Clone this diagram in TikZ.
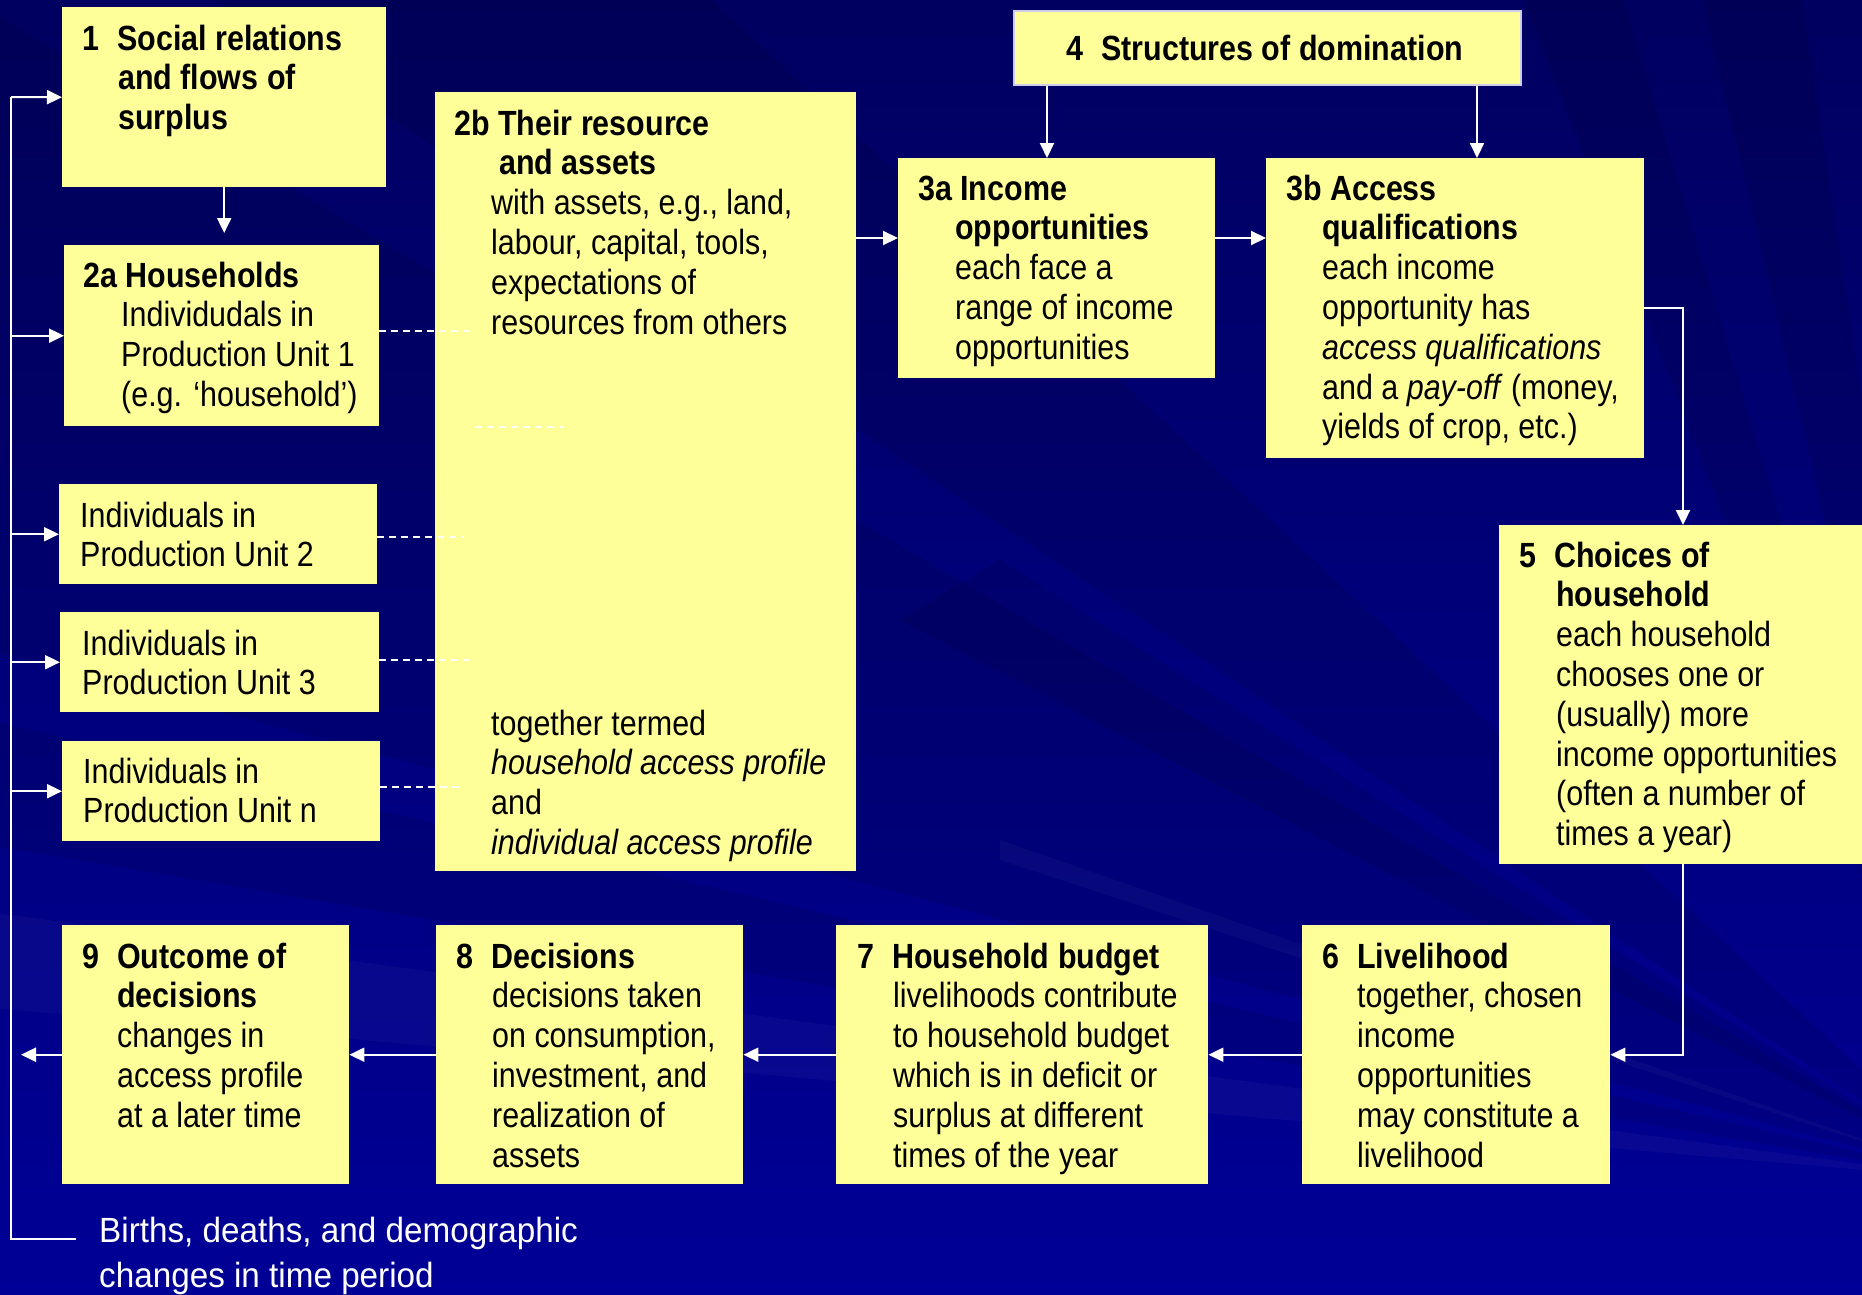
\documentclass[tikz,border=0pt]{standalone}
\usepackage{fontspec}
\setmainfont{Liberation Sans}[FakeStretch=0.87]
\newfontfamily\widefont{Liberation Sans}[FakeStretch=0.95]
\usetikzlibrary{arrows.meta}
\definecolor{boxyellow}{RGB}{255,255,153}
\definecolor{bgtop}{RGB}{0,0,96}
\definecolor{bgbot}{RGB}{0,0,150}
\definecolor{bordc}{RGB}{205,205,235}
\newcommand{\hb}[2][36pt]{\parbox[t]{700pt}{\hangindent=#1\hangafter=1\relax #2}}
\newcommand{\pb}[1]{\parbox[t]{700pt}{#1}}
\newcommand{\nm}[1]{\makebox[35pt][l]{#1}}
\tikzset{
  box/.style={fill=boxyellow, draw=none, inner sep=0pt, anchor=north west},
  txt/.style={anchor=base west, inner sep=0pt, text=black},
  ln/.style={draw=white, line width=2pt},
  arr/.style={draw=white, line width=2pt, -{Triangle[length=15pt,width=14pt]}},
  dsh/.style={draw=white, line width=1.5pt, dash pattern=on 7pt off 5pt},
  streak/.style={fill=black, opacity=0.09},
  glow/.style={fill=white, opacity=0.03}
}
\begin{document}
\begin{tikzpicture}[x=1pt,y=-1pt,font={\fontsize{35}{39.8}\selectfont}]
\useasboundingbox (0,0) rectangle (1862,1294);
% background
\shade[top color=bgtop, bottom color=bgbot] (0,0) rectangle (1862,1294);
\coordinate (P) at (1980,1180);
\begin{scope}
\clip (0,0) rectangle (1862,1294);
\fill[streak] (P) -- (-200,-100) -- (-200,600) -- cycle;
\fill[streak] (P) -- (200,-10) -- (700,-10) -- cycle;
\fill[streak] (P) -- (1520,-10) -- (1620,-10) -- cycle;
\fill[streak] (P) -- (1700,-10) -- (1800,-10) -- cycle;
\fill[streak] (P) -- (-100,700) -- (-100,830) -- cycle;
\fill[streak] (P) -- (1000,560) -- (900,620) -- cycle;
\fill[glow] (P) -- (-100,900) -- (-100,1000) -- cycle;
\fill[glow] (P) -- (1000,840) -- (1000,860) -- cycle;
\end{scope}
% boxes
\node[box, minimum width=324pt, minimum height=180pt] (b1) at (62,7) {};
\node[box, minimum width=315pt, minimum height=181pt] (b2a) at (64,245) {};
\node[box, minimum width=318pt, minimum height=100pt] (bp2) at (59,484) {};
\node[box, minimum width=319pt, minimum height=100pt] (bp3) at (60,612) {};
\node[box, minimum width=318pt, minimum height=100pt] (bpn) at (62,741) {};
\node[box, minimum width=421pt, minimum height=779pt] (b2b) at (435,92) {};
\node[box, draw=bordc, line width=1.5pt, minimum width=507pt, minimum height=74pt] (b4) at (1013,10) {};
\node[box, minimum width=317pt, minimum height=220pt] (b3a) at (898,158) {};
\node[box, minimum width=378pt, minimum height=300pt] (b3b) at (1266,158) {};
\node[box, minimum width=380pt, minimum height=339pt] (b5) at (1499,525) {};
\node[box, minimum width=308pt, minimum height=259pt] (b6) at (1302,925) {};
\node[box, minimum width=372pt, minimum height=259pt] (b7) at (836,925) {};
\node[box, minimum width=307pt, minimum height=259pt] (b8) at (436,925) {};
\node[box, minimum width=287pt, minimum height=259pt] (b9) at (62,925) {};
% texts
\node[txt] (t1) at (82,50) {\hb{\bfseries\nm{1}Social relations\\and flows of\\surplus}};
\node[txt] (t2a) at (83,287) {\hb[38pt]{\textbf{2a Households}\\Individudals in\\Production Unit 1\\(e.g. ‘household’)}};
\node[txt] (tp2) at (80,527) {\pb{Individuals in\\Production Unit 2}};
\node[txt] (tp3) at (82,655) {\pb{Individuals in\\Production Unit 3}};
\node[txt] (tpn) at (83,783) {\pb{Individuals in\\Production Unit n}};
\node[txt] (t2b) at (454,135) {\hb[37pt]{\textbf{2b Their resource}\\\hspace*{8pt}\textbf{and assets}\\with assets, e.g., land,\\labour, capital, tools,\\expectations of\\resources from others}};
\node[txt] (t2c) at (491,735) {\pb{together termed\\\textit{household access profile}\\and\\\textit{individual access profile}}};
\node[txt] (t4) at (1066,60) {\textbf{\nm{4}Structures of domination}};
\node[txt] (t3a) at (918,200) {\hb[37pt]{\textbf{3a Income}\\\textbf{opportunities}\\each face a\\range of income\\opportunities}};
\node[txt] (t3b) at (1286,200) {\hb[36pt]{\textbf{3b Access}\\\textbf{qualifications}\\each income\\opportunity has\\\textit{access qualifications}\\and a \textit{pay-off} (money,\\yields of crop, etc.)}};
\node[txt] (t5) at (1519,567) {\hb[37pt]{\textbf{\nm{5}Choices of}\\\textbf{household}\\each household\\chooses one or\\(usually) more\\income opportunities\\(often a number of\\times a year)}};
\node[txt] (t6) at (1322,968) {\hb[35pt]{\textbf{\nm{6}Livelihood}\\together, chosen\\income\\opportunities\\may constitute a\\livelihood}};
\node[txt] (t7) at (857,968) {\hb[36pt]{\textbf{\nm{7}Household budget}\\livelihoods contribute\\to household budget\\which is in deficit or\\surplus at different\\times of the year}};
\node[txt] (t8) at (456,968) {\hb[36pt]{\textbf{\nm{8}Decisions}\\decisions taken\\on consumption,\\investment, and\\realization of\\assets}};
\node[txt] (t9) at (82,968) {\hb[35pt]{\textbf{\nm{9}Outcome of}\\\textbf{decisions}\\changes in\\access profile\\at a later time}};
\node[txt, text=white] (tb) at (99,1242) {\parbox[t]{700pt}{\widefont\fontsize{35}{45}\selectfont Births, deaths, and demographic\\changes in time period}};
% feedback line on the left
\coordinate (fa) at (11,97);
\coordinate (fb) at (11,1239);
\coordinate (fc) at (76,1239);
\draw[ln] (fa) -- (fb) -- (fc);
\draw[arr] (fa) -- (b1.west);
\draw[arr] (fa |- b2a.west) -- (b2a.west);
\draw[arr] (fa |- bp2.west) -- (bp2.west);
\draw[arr] (fa |- bp3.west) -- (bp3.west);
\draw[arr] (fa |- bpn.west) -- (bpn.west);
% 1 -> 2a
\draw[arr, shorten >=12pt] (b1.south) -- (b1.south |- b2a.north);
% dashed links to 2b
\coordinate (d1) at (470,331);
\coordinate (d2) at (464,537);
\coordinate (d3) at (469,660);
\coordinate (d4) at (464,787);
\coordinate (d5a) at (475,427);
\coordinate (d5b) at (564,427);
\draw[dsh] (b2a.east |- d1) -- (d1);
\draw[dsh] (bp2.east |- d2) -- (d2);
\draw[dsh] (bp3.east |- d3) -- (d3);
\draw[dsh] (bpn.east |- d4) -- (d4);
\draw[dsh] (d5a) -- (d5b);
% top row
\coordinate (r1) at (0,238);
\coordinate (c4a) at (1047,0);
\coordinate (c4b) at (1477,0);
\draw[arr] (b2b.east |- r1) -- (b3a.west |- r1);
\draw[arr] (b3a.east |- r1) -- (b3b.west |- r1);
\draw[arr] (b4.south -| c4a) -- (b3a.north -| c4a);
\draw[arr] (b4.south -| c4b) -- (b3b.north -| c4b);
% 3b -> 5 -> 6
\coordinate (c5) at (1683,308);
\draw[arr] (b3b.east |- c5) -- (c5) -- (c5 |- b5.north);
\draw[arr] (c5 |- b5.south) -- (c5 |- b6.east) -- (b6.east);
% bottom row
\coordinate (c9) at (21,0);
\draw[arr] (b6.west) -- (b7.east);
\draw[arr] (b7.west) -- (b8.east);
\draw[arr] (b8.west) -- (b9.east);
\draw[arr] (b9.west) -- (c9 |- b9.west);
\end{tikzpicture}
\end{document}
